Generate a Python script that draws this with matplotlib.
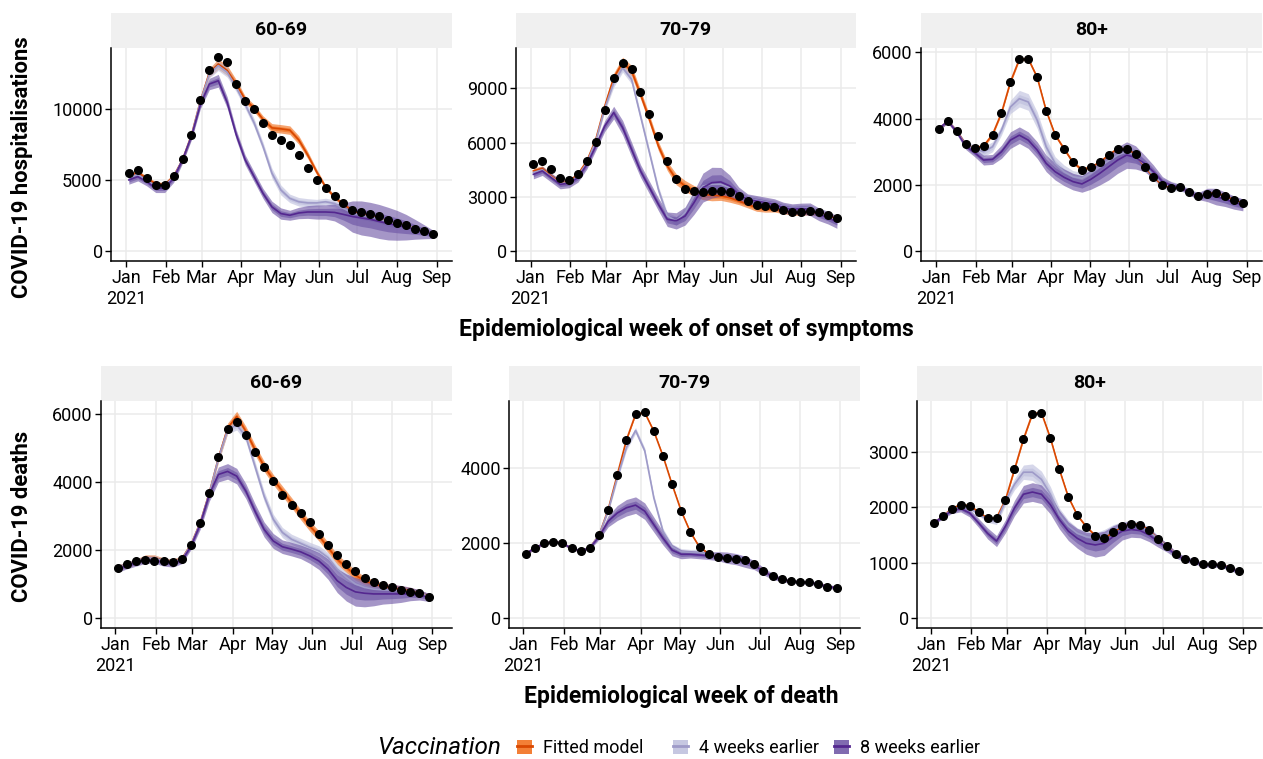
import numpy as np
import pandas as pd
import matplotlib
matplotlib.use('Agg')
import matplotlib.pyplot as plt
from matplotlib.patches import Patch, Rectangle
from matplotlib.lines import Line2D
from matplotlib.legend_handler import HandlerTuple

plt.rcParams['font.family'] = ['Roboto', 'DejaVu Sans']

# weekly data points, 2021-01-03 .. 2021-08-29
weeks = pd.date_range('2021-01-03', periods=35, freq='7D')
month_ticks = pd.date_range('2021-01-01', '2021-09-01', freq='MS')
month_labels = ['Jan\n2021', 'Feb', 'Mar', 'Apr', 'May', 'Jun', 'Jul', 'Aug', 'Sep']
age_groups = ['60-69', '70-79', '80+']

# ---- hospitalisations, 60-69
hosp1_obs = [5530, 5720, 5190, 4670, 4670, 5310, 6520, 8230, 10670, 12760, 13680, 13330, 11760, 10600, 10010, 9010, 8210, 7870,
             7470, 6760, 5880, 5030, 4440, 3890, 3370, 2940, 2750, 2660, 2470, 2180, 1990, 1880, 1590, 1420, 1240]
hosp1_fit = [5350, 5550, 5150, 4750, 4700, 5300, 6450, 8200, 10600, 12600, 13200, 12750, 11800, 10700, 10100, 9300, 8700, 8630,
             8540, 7850, 6790, 5600, 4530, 3820, 3300, 2880, 2600, 2500, 2320, 2080, 1960, 1850, 1620, 1420, 1240]
hosp1_w4 = [5200, 5400, 5000, 4600, 4600, 5250, 6450, 8150, 10580, 12500, 13090, 12620, 11550, 10360, 9060, 7400, 5500, 4320,
            3730, 3490, 3410, 3410, 3490, 3370, 3020, 2700, 2540, 2420, 2300, 2060, 1940, 1850, 1600, 1420, 1230]
hosp1_w8 = [5030, 5260, 4910, 4440, 4440, 5150, 6450, 8110, 10360, 11790, 12020, 10480, 8230, 6450, 5260, 4080, 3130, 2660,
            2540, 2700, 2770, 2770, 2770, 2740, 2600, 2450, 2350, 2250, 2100, 1950, 1830, 1700, 1550, 1380, 1200]
hosp1_fit_sd = [150, 150, 150, 150, 150, 150, 150, 200, 250, 300, 350, 350, 300, 250, 250, 250, 300, 300, 300, 300, 250, 200,
                150, 150, 150, 150, 150, 150, 150, 150, 150, 150, 150, 150, 150]
hosp1_w4_sd = [150, 150, 150, 150, 150, 150, 150, 200, 250, 300, 350, 350, 300, 300, 300, 300, 350, 350, 300, 300, 300, 250,
               250, 250, 250, 300, 300, 300, 300, 300, 250, 250, 250, 250, 250]
hosp1_w8_sd = [300, 300, 300, 300, 300, 300, 250, 250, 300, 400, 450, 400, 350, 350, 350, 350, 400, 400, 350, 400, 450, 500,
               500, 600, 800, 1100, 1200, 1200, 1200, 1150, 1050, 900, 700, 500, 300]

# ---- hospitalisations, 70-79
hosp2_obs = [4800, 4990, 4530, 4050, 3940, 4270, 4970, 6060, 7820, 9590, 10380, 10090, 8800, 7580, 6390, 5010, 3980, 3420,
             3310, 3290, 3310, 3350, 3260, 3040, 2780, 2580, 2500, 2450, 2300, 2150, 2190, 2250, 2150, 2010, 1820]
hosp2_fit = [4440, 4570, 4160, 3790, 3830, 4250, 4990, 6190, 8020, 9590, 10420, 9960, 8670, 7290, 5820, 4710, 3980, 3610,
             3330, 3150, 3090, 3060, 2960, 2780, 2600, 2410, 2360, 2320, 2230, 2140, 2140, 2170, 2100, 1950, 1800]
hosp2_w4 = [4350, 4500, 4110, 3750, 3790, 4160, 4900, 6100, 7900, 9310, 10140, 9500, 7470, 5450, 3420, 1950, 1680, 2140,
            3060, 3610, 3700, 3700, 3520, 3180, 2910, 2820, 2720, 2630, 2450, 2350, 2380, 2380, 2100, 1900, 1680]
hosp2_w8 = [4250, 4440, 4070, 3700, 3760, 4070, 4800, 5820, 6920, 7660, 6830, 5630, 4440, 3520, 2600, 1770, 1680, 1950,
            2690, 3520, 3790, 3830, 3610, 3150, 2870, 2780, 2690, 2600, 2410, 2320, 2360, 2320, 2040, 1860, 1620]
hosp2_fit_sd = [150, 150, 150, 150, 150, 150, 150, 150, 200, 250, 300, 300, 250, 250, 250, 250, 300, 300, 300, 300, 300, 250,
                250, 200, 200, 200, 200, 150, 150, 150, 150, 150, 150, 150, 150]
hosp2_w4_sd = [150, 150, 150, 150, 150, 150, 150, 150, 200, 250, 250, 250, 200, 200, 200, 200, 250, 250, 250, 250, 250, 250,
               200, 200, 200, 200, 200, 200, 200, 200, 200, 200, 200, 200, 200]
hosp2_w8_sd = [250, 250, 250, 250, 250, 250, 250, 250, 300, 350, 400, 400, 350, 350, 350, 400, 450, 500, 650, 800, 850, 800,
               600, 400, 300, 300, 300, 300, 300, 300, 300, 350, 350, 350, 350]

# ---- hospitalisations, 80+
hosp3_obs = [3700, 3920, 3620, 3220, 3110, 3180, 3520, 4170, 5100, 5790, 5800, 5240, 4240, 3510, 3090, 2680, 2460, 2540,
             2680, 2910, 3090, 3090, 2920, 2550, 2240, 1990, 1920, 1930, 1780, 1660, 1740, 1760, 1670, 1550, 1450]
hosp3_fit = [3700, 3920, 3620, 3220, 3110, 3180, 3520, 4170, 5100, 5790, 5800, 5240, 4240, 3510, 3090, 2680, 2460, 2540,
             2680, 2910, 3090, 3090, 2920, 2550, 2240, 1990, 1920, 1930, 1780, 1660, 1740, 1760, 1670, 1550, 1450]
hosp3_w4 = [3700, 3920, 3610, 3200, 3100, 3000, 3150, 3650, 4350, 4600, 4500, 3950, 3150, 2650, 2400, 2250, 2200, 2350,
            2550, 2730, 2900, 3000, 2900, 2600, 2280, 2050, 1960, 1930, 1790, 1680, 1720, 1680, 1600, 1500, 1420]
hosp3_w8 = [3700, 3920, 3600, 3170, 2970, 2750, 2770, 3000, 3350, 3500, 3350, 3050, 2650, 2400, 2230, 2100, 2030, 2170,
            2350, 2550, 2750, 2900, 2830, 2650, 2400, 2100, 1990, 1930, 1780, 1660, 1700, 1650, 1570, 1470, 1400]
hosp3_fit_sd = [50] * 35
hosp3_w4_sd = [50, 50, 50, 100, 120, 150, 150, 150, 200, 250, 250, 250, 250, 200, 200, 180, 180, 180, 180, 180, 180, 180,
               180, 150, 150, 150, 150, 100, 100, 100, 150, 150, 150, 150, 150]
hosp3_w8_sd = [50, 60, 80, 100, 120, 150, 150, 200, 250, 250, 250, 250, 250, 250, 250, 250, 250, 300, 350, 400, 400, 400,
               350, 250, 200, 150, 100, 80, 80, 100, 200, 250, 220, 200, 180]

# ---- deaths, 60-69
death1_obs = [1460, 1580, 1670, 1690, 1680, 1660, 1630, 1720, 2130, 2790, 3680, 4740, 5570, 5770, 5390, 4880, 4430, 4040,
              3620, 3310, 3090, 2810, 2470, 2140, 1850, 1580, 1370, 1170, 1040, 960, 890, 820, 760, 730, 620]
death1_fit = [1480, 1560, 1650, 1770, 1770, 1680, 1650, 1740, 2160, 2800, 3680, 4710, 5580, 5930, 5490, 4950, 4460, 4070,
              3730, 3390, 3040, 2700, 2410, 2070, 1720, 1480, 1250, 1090, 990, 920, 870, 840, 790, 730, 630]
death1_w4 = [1480, 1560, 1650, 1760, 1760, 1670, 1640, 1730, 2150, 2790, 3670, 4700, 5540, 5680, 5340, 4460, 3580, 2900,
             2510, 2310, 2190, 2070, 1970, 1770, 1430, 1190, 990, 890, 840, 820, 810, 790, 760, 730, 620]
death1_w8 = [1440, 1540, 1620, 1700, 1700, 1620, 1590, 1690, 2110, 2750, 3630, 4220, 4310, 4170, 3730, 3140, 2600, 2260,
             2090, 2020, 1940, 1820, 1670, 1430, 1090, 890, 760, 720, 700, 700, 700, 700, 700, 670, 600]
death1_fit_sd = [80, 80, 80, 80, 80, 80, 80, 80, 80, 100, 100, 120, 150, 150, 150, 150, 150, 150, 150, 150, 150, 150, 150,
                 150, 150, 150, 150, 120, 120, 100, 100, 100, 100, 80, 80]
death1_w4_sd = [80, 80, 80, 80, 80, 80, 80, 80, 80, 100, 100, 120, 120, 150, 150, 150, 150, 150, 150, 150, 150, 150, 150,
                150, 150, 150, 150, 120, 120, 100, 100, 100, 100, 100, 80]
death1_w8_sd = [100, 100, 100, 100, 100, 100, 100, 100, 100, 150, 200, 220, 230, 230, 220, 220, 220, 220, 200, 200, 200,
                220, 250, 300, 350, 400, 420, 400, 350, 300, 280, 250, 200, 150, 120]

# ---- deaths, 70-79
death2_obs = [1710, 1860, 1980, 2030, 1980, 1850, 1780, 1870, 2200, 2880, 3810, 4740, 5420, 5470, 4970, 4310, 3550, 2840,
              2280, 1880, 1710, 1630, 1580, 1570, 1530, 1430, 1250, 1100, 1020, 970, 950, 940, 910, 830, 800]
death2_fit = [1710, 1860, 1980, 2030, 1980, 1850, 1780, 1870, 2200, 2880, 3810, 4740, 5420, 5470, 4970, 4310, 3550, 2840,
              2280, 1880, 1710, 1630, 1580, 1570, 1530, 1430, 1250, 1100, 1020, 970, 950, 940, 910, 830, 800]
death2_w4 = [1710, 1860, 1980, 2030, 1980, 1850, 1780, 1870, 2200, 2850, 3730, 4540, 4990, 4450, 3190, 2300, 1890, 1760,
             1740, 1740, 1690, 1650, 1600, 1600, 1560, 1430, 1250, 1100, 1020, 970, 950, 940, 910, 830, 800]
death2_w8 = [1710, 1860, 1980, 2030, 1980, 1850, 1780, 1860, 2160, 2570, 2790, 2930, 3000, 2840, 2480, 2120, 1800, 1690,
             1690, 1670, 1650, 1640, 1600, 1560, 1490, 1400, 1240, 1100, 1020, 970, 950, 940, 900, 830, 800]
death2_fit_sd = [30] * 35
death2_w4_sd = [30, 30, 30, 30, 30, 30, 30, 30, 30, 60, 80, 80, 80, 80, 80, 80, 80, 80, 80, 80, 80, 80, 80, 80, 80, 60,
                50, 40, 40, 40, 40, 40, 40, 40, 40]
death2_w8_sd = [40, 40, 40, 40, 40, 40, 40, 40, 80, 150, 200, 220, 220, 220, 200, 180, 150, 120, 100, 100, 100, 120, 150,
                150, 150, 120, 100, 80, 60, 50, 50, 50, 50, 50, 50]

# ---- deaths, 80+
death3_obs = [1720, 1840, 1980, 2050, 2030, 1920, 1800, 1810, 2140, 2690, 3240, 3700, 3720, 3260, 2690, 2190, 1860, 1650,
              1490, 1440, 1550, 1660, 1700, 1690, 1590, 1430, 1300, 1150, 1070, 1030, 970, 970, 960, 910, 840]
death3_fit = [1720, 1840, 1980, 2050, 2030, 1920, 1800, 1810, 2140, 2690, 3240, 3700, 3720, 3260, 2690, 2190, 1860, 1650,
              1490, 1440, 1550, 1660, 1700, 1690, 1590, 1430, 1300, 1150, 1070, 1030, 970, 970, 960, 910, 840]
death3_w4 = [1720, 1840, 1960, 2010, 1990, 1880, 1780, 1750, 2120, 2420, 2640, 2640, 2510, 2240, 1870, 1660, 1530, 1470,
             1440, 1500, 1600, 1660, 1690, 1660, 1570, 1430, 1290, 1150, 1070, 1030, 970, 970, 960, 900, 840]
death3_w8 = [1720, 1830, 1940, 1980, 1900, 1720, 1530, 1390, 1660, 1990, 2240, 2280, 2240, 2050, 1780, 1570, 1440, 1350,
             1320, 1350, 1470, 1570, 1600, 1580, 1500, 1380, 1270, 1140, 1060, 1020, 960, 960, 950, 900, 830]
death3_fit_sd = [25] * 35
death3_w4_sd = [30, 30, 30, 30, 30, 30, 50, 60, 80, 100, 130, 150, 150, 140, 120, 110, 100, 100, 100, 100, 90, 80, 80, 80,
                80, 60, 50, 40, 40, 40, 40, 40, 40, 40, 40]
death3_w8_sd = [30, 40, 50, 60, 70, 80, 100, 100, 120, 140, 160, 170, 170, 170, 170, 170, 180, 200, 220, 220, 200, 160,
                140, 130, 120, 100, 80, 60, 50, 40, 40, 40, 40, 40, 40]

hosp_yticks = [[0, 5000, 10000], [0, 3000, 6000, 9000], [0, 2000, 4000, 6000]]
death_yticks = [[0, 2000, 4000, 6000], [0, 2000, 4000], [0, 1000, 2000, 3000]]

scenario_names = ['Fitted model', '4 weeks earlier', '8 weeks earlier']
line_cols = ['#D94801', '#9E9AC8', '#54278F']
fill_cols = ['#F16913', '#BCBDDC', '#6A51A3']

panels = [
    (hosp1_obs, [(hosp1_fit, hosp1_fit_sd), (hosp1_w4, hosp1_w4_sd), (hosp1_w8, hosp1_w8_sd)]),
    (hosp2_obs, [(hosp2_fit, hosp2_fit_sd), (hosp2_w4, hosp2_w4_sd), (hosp2_w8, hosp2_w8_sd)]),
    (hosp3_obs, [(hosp3_fit, hosp3_fit_sd), (hosp3_w4, hosp3_w4_sd), (hosp3_w8, hosp3_w8_sd)]),
    (death1_obs, [(death1_fit, death1_fit_sd), (death1_w4, death1_w4_sd), (death1_w8, death1_w8_sd)]),
    (death2_obs, [(death2_fit, death2_fit_sd), (death2_w4, death2_w4_sd), (death2_w8, death2_w8_sd)]),
    (death3_obs, [(death3_fit, death3_fit_sd), (death3_w4, death3_w4_sd), (death3_w8, death3_w8_sd)]),
]

W, H = 1263, 759
fig = plt.figure(figsize=(W / 100, H / 100), dpi=100)

# pixel boxes (left, right, top, bottom) of each panel
boxes = [(111, 452, 47.5, 261), (515.5, 856, 47.5, 261), (921, 1262, 47.5, 261),
         (101, 452, 401, 628), (509, 860, 401, 628), (917, 1262, 401, 628)]
xlims = [('2020-12-20', '2021-09-13')] * 3 + [('2020-12-21', '2021-09-16')] * 3
strip_px = 35
yticks_all = hosp_yticks + death_yticks

for i, ((obs, series), (l, r, t, b)) in enumerate(zip(panels, boxes)):
    ax = fig.add_axes([l / W, 1 - b / H, (r - l) / W, (b - t) / H])
    top = 0
    for (mid, sd), lc, fc in zip(series, line_cols, fill_cols):
        mid = np.array(mid, dtype=float)
        sd = np.array(sd, dtype=float)
        top = max(top, (mid + sd).max())
        ax.fill_between(weeks, mid - sd, mid + sd, color=fc, alpha=0.6, lw=0)
        ax.fill_between(weeks, mid - sd * 0.5, mid + sd * 0.5, color=fc, alpha=0.6, lw=0)
        ax.plot(weeks, mid, color=lc, lw=1.2)
    top = max(top, max(obs))
    ax.plot(weeks, obs, 'o', color='black', ms=5.5, zorder=5)

    ax.set_ylim(-0.05 * top, 1.05 * top)
    ax.set_xlim(pd.Timestamp(xlims[i][0]), pd.Timestamp(xlims[i][1]))
    ax.set_yticks(yticks_all[i])
    ax.set_xticks(month_ticks)
    ax.set_xticklabels(month_labels)
    ax.grid(True, color='#EBEBEB', lw=1.1)
    ax.set_axisbelow(True)
    for s in ['top', 'right']:
        ax.spines[s].set_visible(False)
    for s in ['left', 'bottom']:
        ax.spines[s].set_color('black')
        ax.spines[s].set_linewidth(1.1)
    ax.tick_params(length=4, width=1, color='black', labelsize=13, labelcolor='black', pad=2)

    # facet strip
    h = strip_px / (b - t)
    ax.add_patch(Rectangle((0, 1), 1, h, transform=ax.transAxes, clip_on=False,
                           facecolor='#F0F0F0', edgecolor='none'))
    ax.text(0.5, 1 + h / 2, age_groups[i % 3], transform=ax.transAxes, ha='center', va='center',
            fontsize=14, fontweight='bold')

fig.text(22 / W, 1 - 167 / H, 'COVID-19 hospitalisations', rotation=90, ha='center', va='center',
         fontsize=15.8, fontweight='bold')
fig.text(22 / W, 1 - 516 / H, 'COVID-19 deaths', rotation=90, ha='center', va='center',
         fontsize=15.8, fontweight='bold')
fig.text(686 / W, 1 - 330 / H, 'Epidemiological week of onset of symptoms', ha='center', va='center',
         fontsize=16.5, fontweight='bold')
fig.text(681 / W, 1 - 697 / H, 'Epidemiological week of death', ha='center', va='center',
         fontsize=16.5, fontweight='bold')

# legend: one entry per key so each sits where the reference has it
key_x = [517, 673, 834]
for name, fc, lc, kx in zip(scenario_names, fill_cols, line_cols, key_x):
    hnd = (Patch(facecolor=fc, alpha=0.85, edgecolor='none'), Line2D([], [], color=lc, lw=2))
    fig.legend([hnd], [name], loc='center left', bbox_to_anchor=(kx / W, 1 - 748 / H),
               frameon=False, fontsize=13, handler_map={tuple: HandlerTuple(ndivide=1)},
               handlelength=0.85, handleheight=0.85, handletextpad=0.6,
               borderpad=0, borderaxespad=0)
fig.text(501 / W, 1 - 748 / H, 'Vaccination', ha='right', va='center', fontsize=17.5, style='italic')

fig.savefig('out.png', dpi=100)
